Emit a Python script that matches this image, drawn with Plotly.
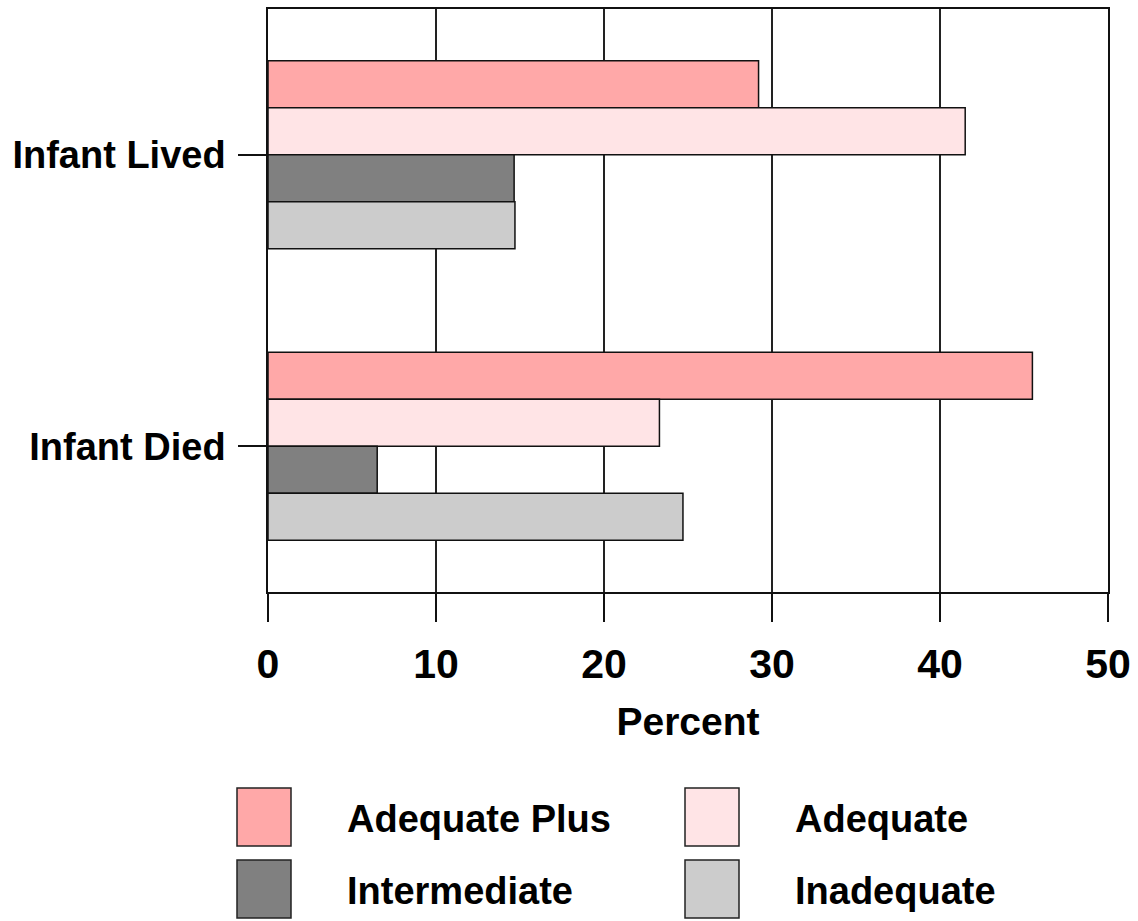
import plotly.graph_objects as go

# Outcome groups and prenatal-care adequacy categories
outcomes = ["Infant Lived", "Infant Died"]
care_levels = ["Adequate Plus", "Adequate", "Intermediate", "Inadequate"]

# Percent of each outcome group by care level
adequate_plus = [29.2, 45.5]
adequate = [41.5, 23.3]
intermediate = [14.65, 6.5]
inadequate = [14.7, 24.7]

x_ticks = [0, 10, 20, 30, 40, 50]

series = [adequate_plus, adequate, intermediate, inadequate]
colors = ["#FFA8A8", "#FFE4E6", "#808080", "#CCCCCC"]

FONT = "Liberation Sans, Arial"

W, H = 1138, 921
L, R, T, B = 268, 30, 9, 329
PW, PH = W - L - R, H - T - B


def px_to_paper(x, y):
    return (x - L) / PW, (H - B - y) / PH


fig = go.Figure()
for name, vals, col in zip(care_levels, series, colors):
    fig.add_trace(go.Bar(
        y=outcomes, x=vals, name=name, orientation="h",
        marker=dict(color=col, line=dict(color="#111111", width=1.5)),
        showlegend=False,
    ))

# Custom legend: large swatches with labels in two columns
legend_cells = [
    (care_levels[0], colors[0], 237, 788, 345),
    (care_levels[1], colors[1], 685, 788, 793),
    (care_levels[2], colors[2], 237, 860, 345),
    (care_levels[3], colors[3], 685, 860, 793),
]
shapes = []
annotations = []
for label, col, bx, by, tx in legend_cells:
    x0, y1 = px_to_paper(bx, by)
    x1, y0 = px_to_paper(bx + 54, by + 58)
    shapes.append(dict(type="rect", xref="paper", yref="paper",
                       x0=x0, x1=x1, y0=y0, y1=y1,
                       fillcolor=col, line=dict(color="#222222", width=1.5)))
    ax, ay = px_to_paper(tx, by + 31)
    annotations.append(dict(text=label, xref="paper", yref="paper",
                            x=ax, y=ay, xanchor="left", yanchor="middle",
                            showarrow=False,
                            font=dict(family=FONT, size=38,
                                      color="black", weight="bold")))

fig.update_layout(
    width=W, height=H,
    margin=dict(l=L, r=R, t=T, b=B),
    paper_bgcolor="white", plot_bgcolor="white",
    barmode="group", bargap=0.355, bargroupgap=0,
    shapes=shapes, annotations=annotations,
    font=dict(family=FONT, color="black"),
    xaxis=dict(
        range=[0, 50], tickvals=x_ticks, ticktext=[str(v) for v in x_ticks],
        automargin=False,
        showgrid=True, gridcolor="#222222", gridwidth=1.5,
        showline=True, linecolor="#111111", linewidth=1.5, mirror=True,
        ticks="outside", ticklen=28, tickcolor="#111111", tickwidth=1.5,
        tickfont=dict(family=FONT, size=41, weight="bold"),
        ticklabelstandoff=7,
        zeroline=False,
        title=dict(text="Percent", standoff=22,
                   font=dict(family=FONT, size=39, weight="bold")),
    ),
    yaxis=dict(
        autorange="reversed",
        automargin=False,
        showgrid=False,
        showline=True, linecolor="#111111", linewidth=1.5, mirror=True,
        ticks="outside", ticklen=28, tickcolor="#111111", tickwidth=1.5,
        tickfont=dict(family=FONT, size=38, weight="bold"),
        ticklabelstandoff=5,
    ),
)

fig.write_html("out.html")
